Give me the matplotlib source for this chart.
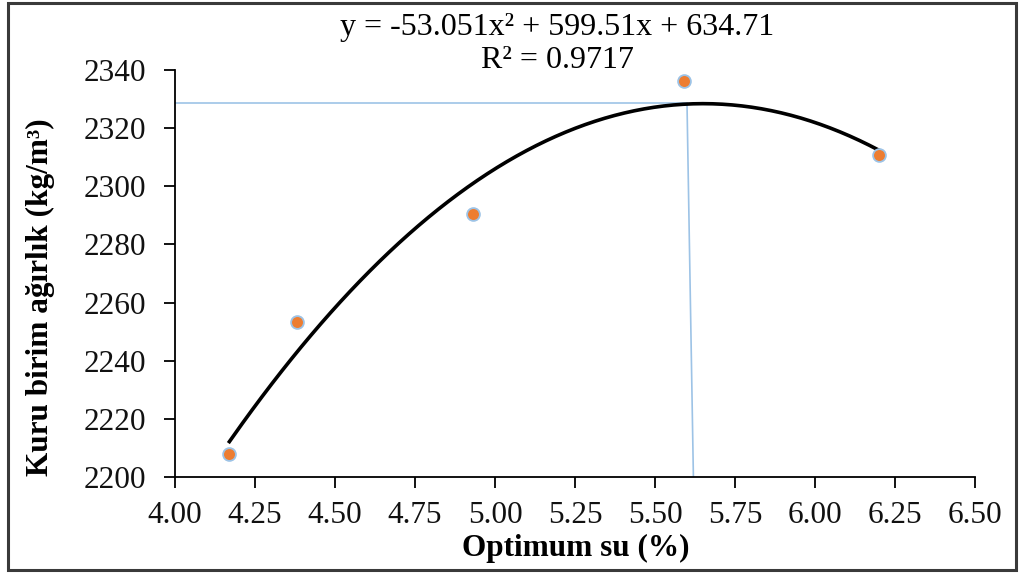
import numpy as np
import matplotlib
matplotlib.use('Agg')
import matplotlib.pyplot as plt
from matplotlib.patches import Rectangle

# measured points
su = [4.17, 4.38, 4.93, 5.59, 6.20]
agirlik = [2207.8, 2253.2, 2290.5, 2336.1, 2310.6]

# trendline coefficients given on the chart
coef = [-53.051, 599.51, 634.71]
r2 = 0.9717

# optimum guide lines
opt_x = [5.60, 5.62]
opt_y = 2328.5

xticks = [4.00, 4.25, 4.50, 4.75, 5.00, 5.25, 5.50, 5.75, 6.00, 6.25, 6.50]
yticks = [2200, 2220, 2240, 2260, 2280, 2300, 2320, 2340]

plt.rcParams['font.family'] = ['Liberation Serif', 'DejaVu Serif']
plt.rcParams['font.size'] = 22.5

fig = plt.figure(figsize=(10.22, 5.74), dpi=100)
ax = fig.add_axes([175/1022, 1-477/574, 800/1022, 407/574])

ax.plot([xticks[0], opt_x[0]], [opt_y, opt_y], color='#9dc3e6', lw=1.2, zorder=2)
ax.plot([opt_x[0], opt_x[1]], [opt_y, yticks[0]], color='#9dc3e6', lw=1.2, zorder=2)

xs = np.linspace(su[0], su[-1], 200)
ax.plot(xs, np.polyval(coef, xs), color='black', lw=2.6, zorder=3)

ax.scatter(su, agirlik, s=85, color='#ED7D31', edgecolors='#9dc3e6', linewidths=1.3, zorder=4)

ax.set_xlim(xticks[0], xticks[-1])
ax.set_ylim(yticks[0], yticks[-1])
ax.set_xticks(xticks)
ax.set_xticklabels(['%.2f' % v for v in xticks])
ax.set_yticks(yticks)
for s in ['top', 'right']:
    ax.spines[s].set_visible(False)
for s in ['left', 'bottom']:
    ax.spines[s].set_linewidth(1.3)
ax.tick_params(direction='out', length=8, width=1.3, colors='black', labelcolor='#111111')
ax.tick_params(axis='y', pad=13)
ax.tick_params(axis='x', pad=9)

fig.text(576/1022, 1-548/574, 'Optimum su (%)', fontweight='bold', ha='center', va='center')
fig.text(40/1022, 1-297/574, 'Kuru birim ağırlık (kg/m³)', fontweight='bold',
         rotation=90, ha='center', va='center')

fig.text(557/1022, 1-28/574, 'y = -53.051x² + 599.51x + 634.71', ha='center', va='center', fontsize=23)
fig.text(557/1022, 1-60/574, 'R² = %.4f' % r2, ha='center', va='center', fontsize=23)

fig.patches.append(Rectangle((8/1022, 1-570/574), 1008/1022, 567/574, transform=fig.transFigure,
                             fill=False, edgecolor='#3a3a3a', lw=2.2))

fig.savefig('out.png', dpi=100)
